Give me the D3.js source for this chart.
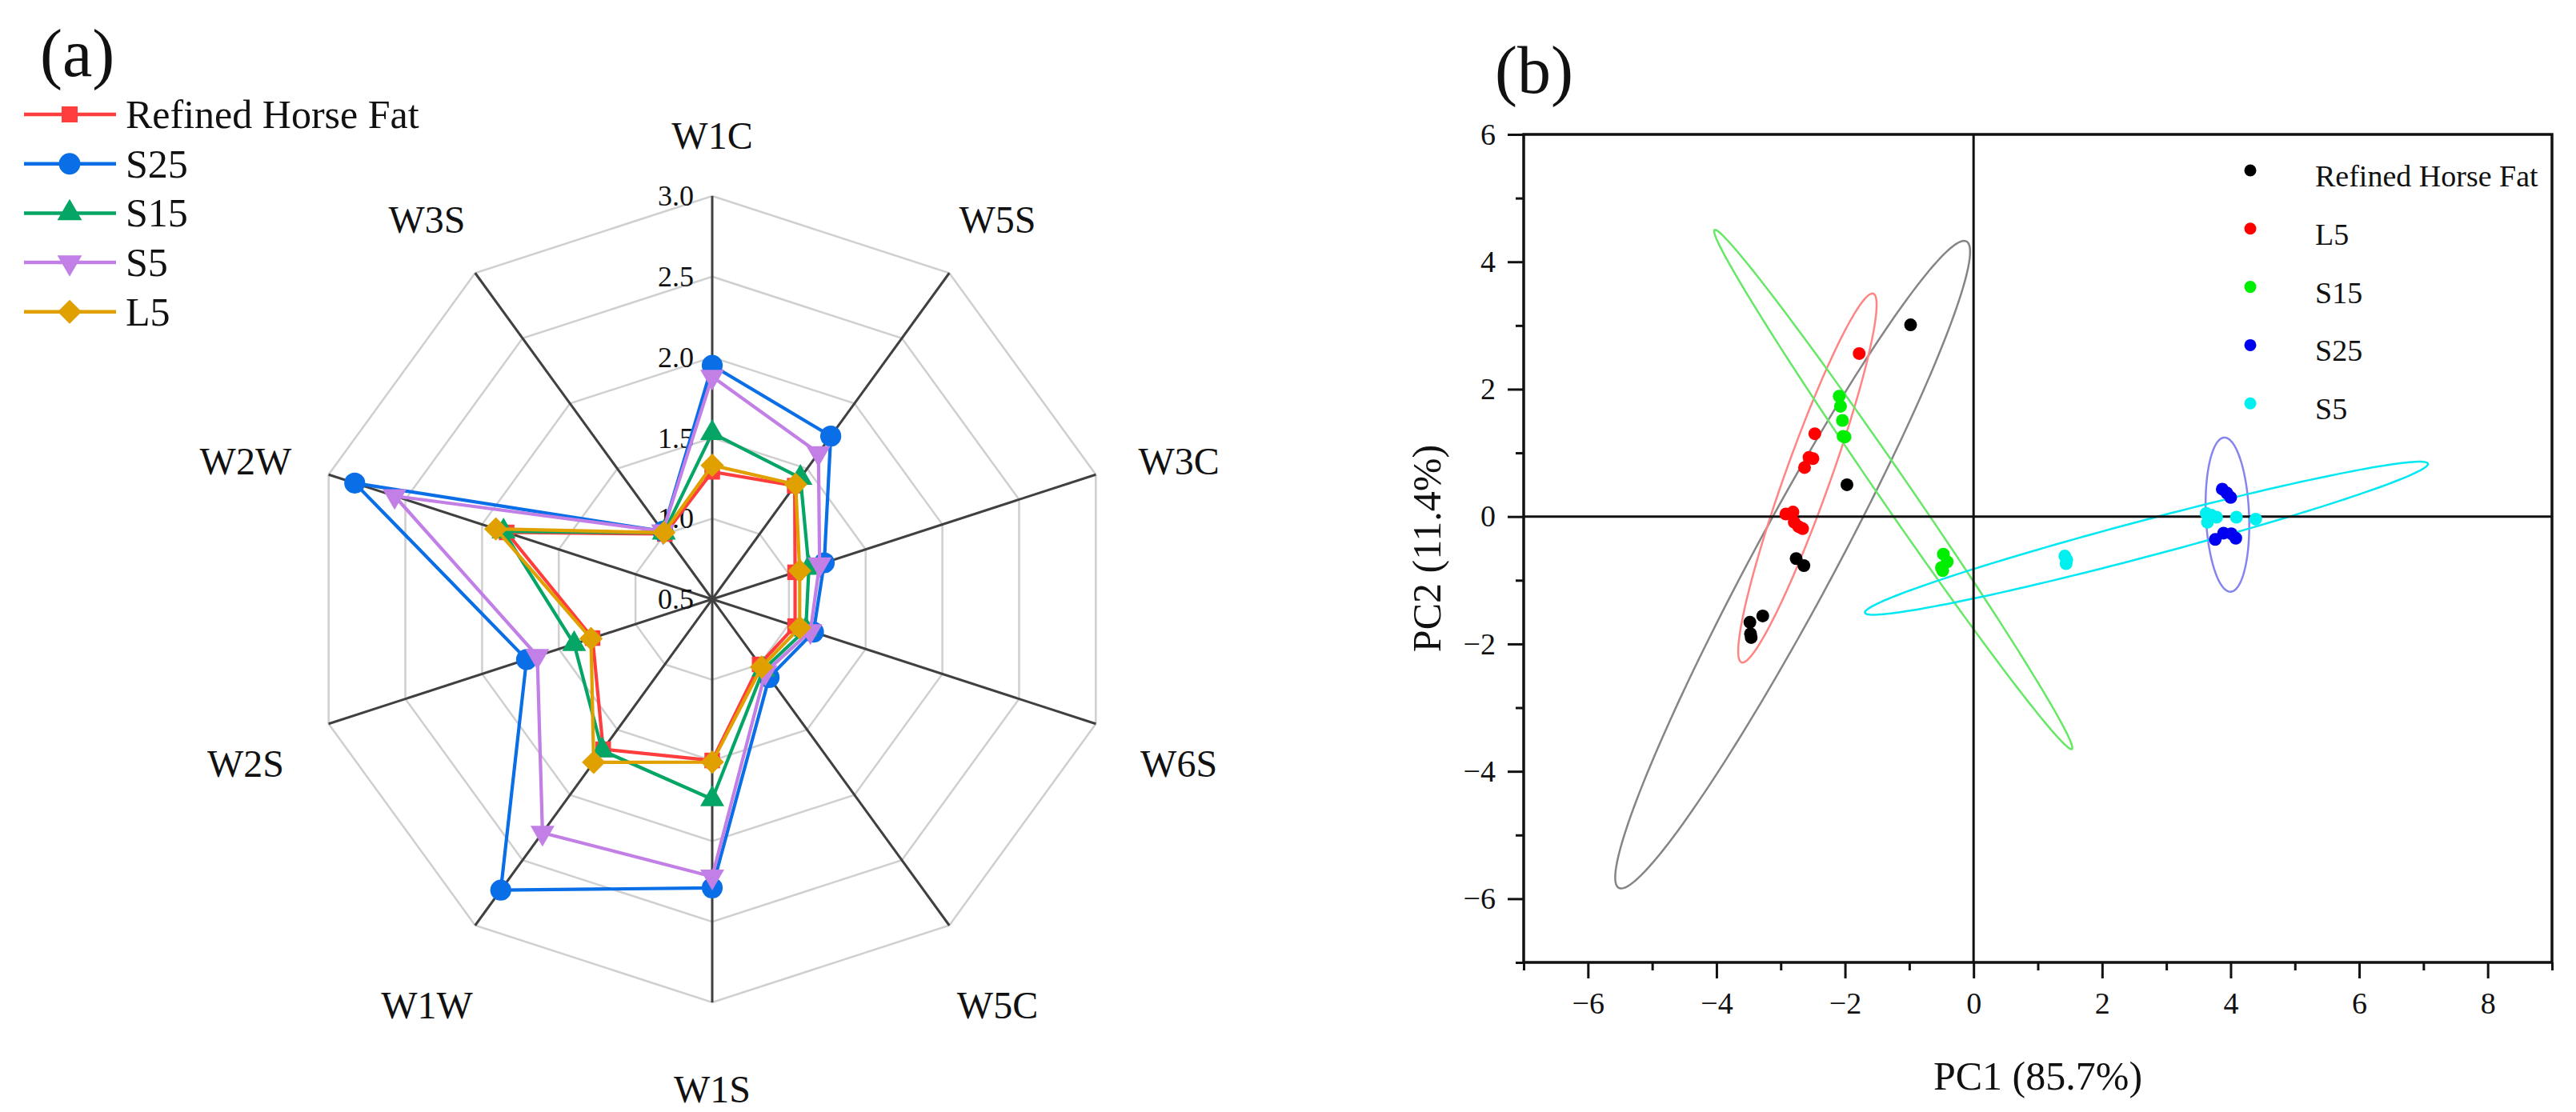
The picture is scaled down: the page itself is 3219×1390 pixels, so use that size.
<!DOCTYPE html>
<html><head><meta charset="utf-8">
<script src="https://cdn.jsdelivr.net/npm/d3@7"></script>
<style>
html,body{margin:0;padding:0;background:#fff;}
svg{display:block;}
text{font-family:'Liberation Serif','Times New Roman',serif;fill:#111;}
</style>
</head><body>
<svg id="chart" width="3219" height="1390"></svg>
<script>
// ---------------- data: radar (a) ----------------
const radarAxes = ["W1C","W5S","W3C","W6S","W5C","W1S","W1W","W2S","W2W","W3S"];
const radarTicks = [0.5, 1.0, 1.5, 2.0, 2.5, 3.0];
const radarSeriesNames = ["Refined Horse Fat","S25","S15","S5","L5"];
const valuesRefinedHorseFat = [1.29,1.37,1.04,1.04,1.00,1.50,1.65,1.28,1.84,1.00];
const valuesS25            = [1.95,1.75,1.23,1.16,1.10,2.29,2.73,1.71,2.83,1.02];
const valuesS15            = [1.53,1.43,1.13,1.11,1.04,1.74,1.66,1.40,1.86,1.01];
const valuesS5             = [1.88,1.62,1.20,1.14,1.06,2.22,2.29,1.64,2.57,1.02];
const valuesL5             = [1.33,1.38,1.07,1.07,1.02,1.51,1.75,1.29,1.91,1.01];

// ---------------- data: PCA (b) ----------------
const pcaGroups = ["Refined Horse Fat","L5","S15","S25","S5"];
const pcaRefinedHorseFat = [[-0.98,3.01],[-1.97,0.50],[-2.76,-0.66],[-2.64,-0.77],[-3.48,-1.66],[-3.28,-1.56],[-3.47,-1.84],[-3.46,-1.90]];
const pcaL5  = [[-1.78,2.56],[-2.47,1.30],[-2.56,0.93],[-2.50,0.91],[-2.63,0.77],[-2.92,0.04],[-2.81,0.07],[-2.79,-0.09],[-2.72,-0.16],[-2.66,-0.19]];
const pcaS15 = [[-2.09,1.89],[-2.07,1.73],[-2.04,1.51],[-2.03,1.26],[-2.00,1.25],[-0.47,-0.59],[-0.41,-0.71],[-0.50,-0.80],[-0.48,-0.85]];
const pcaS25 = [[3.87,0.43],[3.94,0.37],[4.00,0.30],[3.76,-0.36],[3.89,-0.26],[4.01,-0.27],[4.08,-0.34]];
const pcaS5  = [[1.42,-0.62],[1.44,-0.74],[1.45,-0.68],[3.62,0.05],[3.64,-0.09],[3.70,0.02],[3.78,-0.01],[4.09,-0.01],[4.39,-0.04]];
// confidence ellipses: major-axis end points (PC1, PC2) and minor/major ratio
const ellipseRefinedHorseFat = [[-0.11,4.32],[-5.52,-5.83],0.11];
const ellipseL5  = [[-1.56,3.50],[-3.61,-2.29],0.115];
const ellipseS15 = [[-4.03,4.50],[1.53,-3.65],0.048];
const ellipseS25 = [[3.90,1.24],[4.00,-1.18],0.28];
const ellipseS5  = [[-1.69,-1.51],[7.07,0.83],0.062];
const pcaXTicks = [-6,-4,-2,0,2,4,6,8];
const pcaYTicks = [-6,-4,-2,0,2,4,6];
const pcaXLabel = "PC1 (85.7%)";
const pcaYLabel = "PC2 (11.4%)";

// ---------------- drawing ----------------
const W = 3219, H = 1390;
const svg = d3.select("#chart");
svg.append("rect").attr("width", W).attr("height", H).attr("fill", "#fff");
const fmt = d => d < 0 ? "\u2212" + Math.abs(d) : String(d);

// ===== Radar =====
const cx = 890, cy = 749, R = 504;
const rScale = d3.scaleLinear().domain([0.5, 3]).range([0, R]);
const aScale = d3.scaleLinear().domain([0, radarAxes.length]).range([0, 2 * Math.PI]);
const gR = svg.append("g").attr("transform", `translate(${cx},${cy})`);
const radial = d3.lineRadial().angle(d => d[0]).radius(d => d[1]).curve(d3.curveLinearClosed);

// rings
gR.selectAll("path.ring").data(radarTicks.slice(1)).join("path")
  .attr("class", "ring")
  .attr("d", t => radial(radarAxes.map((a, i) => [aScale(i), rScale(t)])))
  .attr("fill", "none").attr("stroke", "#cfcfcf").attr("stroke-width", 2.5);
// spokes
gR.selectAll("line.spoke").data(radarAxes).join("line")
  .attr("class", "spoke")
  .attr("x1", 0).attr("y1", 0)
  .attr("x2", (a, i) => rScale(3) * Math.sin(aScale(i)))
  .attr("y2", (a, i) => -rScale(3) * Math.cos(aScale(i)))
  .attr("stroke", "#404040").attr("stroke-width", 3);
// axis labels
const labelRadius = th => R + 92 + 18 * Math.abs(Math.sin(th));
gR.selectAll("text.axl").data(radarAxes).join("text")
  .attr("class", "axl")
  .attr("x", (a, i) => labelRadius(aScale(i)) * Math.sin(aScale(i)))
  .attr("y", (a, i) => -labelRadius(aScale(i)) * Math.cos(aScale(i)) + 33)
  .attr("text-anchor", "middle").attr("font-size", 48).text(d => d);
// tick labels
gR.selectAll("text.tk").data(radarTicks).join("text")
  .attr("class", "tk")
  .attr("x", -23).attr("y", t => -rScale(t)).attr("dy", "0.34em")
  .attr("text-anchor", "end").attr("font-size", 36).text(t => t.toFixed(1));

const radarSeries = [
  {name: radarSeriesNames[0], vals: valuesRefinedHorseFat, color: "#ff3d3d", sym: d3.symbolSquare, size: 380, rot: 0},
  {name: radarSeriesNames[1], vals: valuesS25, color: "#0a6fe6", sym: d3.symbolCircle, size: 540, rot: 0},
  {name: radarSeriesNames[2], vals: valuesS15, color: "#05a565", sym: d3.symbolTriangle, size: 390, rot: 0},
  {name: radarSeriesNames[3], vals: valuesS5, color: "#c27fe6", sym: d3.symbolTriangle, size: 390, rot: 180},
  {name: radarSeriesNames[4], vals: valuesL5, color: "#e0a000", sym: d3.symbolSquare, size: 430, rot: 45}
];
radarSeries.forEach(s => {
  const pts = s.vals.map((v, i) => [aScale(i), rScale(v)]);
  gR.append("path").attr("d", radial(pts))
    .attr("fill", "none").attr("stroke", s.color).attr("stroke-width", 4.2).attr("stroke-linejoin", "round");
  gR.selectAll(null).data(pts).join("path")
    .attr("d", d3.symbol().type(s.sym).size(s.size))
    .attr("transform", d => `translate(${d[1] * Math.sin(d[0])},${-d[1] * Math.cos(d[0])}) rotate(${s.rot})`)
    .attr("fill", s.color);
});
// radar legend
const gL = svg.append("g");
radarSeries.forEach((s, i) => {
  const yy = 143 + i * 61.7;
  gL.append("line").attr("x1", 30).attr("x2", 145).attr("y1", yy).attr("y2", yy)
    .attr("stroke", s.color).attr("stroke-width", 4.5);
  gL.append("path").attr("d", d3.symbol().type(s.sym).size(s.size * 1.05))
    .attr("transform", `translate(87,${yy}) rotate(${s.rot})`).attr("fill", s.color);
  gL.append("text").attr("x", 157).attr("y", yy + 17).attr("font-size", 50).text(s.name);
});
svg.append("text").attr("x", 50).attr("y", 95).attr("font-size", 84).text("(a)");

// ===== PCA =====
const x = d3.scaleLinear().domain([-7, 9]).range([1904, 3189]);
const y = d3.scaleLinear().domain([-7, 6]).range([1203, 168]);
const gP = svg.append("g");

const groups = [
  {name: pcaGroups[0], pts: pcaRefinedHorseFat, ell: ellipseRefinedHorseFat, color: "#000000", ecolor: "#858585"},
  {name: pcaGroups[1], pts: pcaL5, ell: ellipseL5, color: "#ff0000", ecolor: "#ff8585"},
  {name: pcaGroups[2], pts: pcaS15, ell: ellipseS15, color: "#00ee00", ecolor: "#66e866"},
  {name: pcaGroups[3], pts: pcaS25, ell: ellipseS25, color: "#0000f0", ecolor: "#8585f0"},
  {name: pcaGroups[4], pts: pcaS5, ell: ellipseS5, color: "#00f0f0", ecolor: "#00e8f2"}
];
const closed = d3.line().curve(d3.curveLinearClosed);
groups.forEach(g => {
  const p1 = [x(g.ell[0][0]), y(g.ell[0][1])], p2 = [x(g.ell[1][0]), y(g.ell[1][1])];
  const c = [(p1[0] + p2[0]) / 2, (p1[1] + p2[1]) / 2];
  const A = [(p1[0] - p2[0]) / 2, (p1[1] - p2[1]) / 2];
  const B = [-A[1] * g.ell[2], A[0] * g.ell[2]];
  const ring = d3.range(0, 2 * Math.PI, Math.PI / 90).map(t =>
    [c[0] + A[0] * Math.cos(t) + B[0] * Math.sin(t), c[1] + A[1] * Math.cos(t) + B[1] * Math.sin(t)]);
  gP.append("path").attr("d", closed(ring)).attr("fill", "none")
    .attr("stroke", g.ecolor).attr("stroke-width", 2.5);
});
// zero lines
gP.append("line").attr("x1", x(-7)).attr("x2", x(9)).attr("y1", y(0)).attr("y2", y(0))
  .attr("stroke", "#111").attr("stroke-width", 3);
gP.append("line").attr("x1", x(0)).attr("x2", x(0)).attr("y1", y(6)).attr("y2", y(-7))
  .attr("stroke", "#111").attr("stroke-width", 3);
// points
groups.forEach(g => {
  gP.selectAll(null).data(g.pts).join("circle")
    .attr("cx", d => x(d[0])).attr("cy", d => y(d[1])).attr("r", 8).attr("fill", g.color);
});
// frame
gP.append("rect").attr("x", x(-7)).attr("y", y(6)).attr("width", x(9) - x(-7)).attr("height", y(-7) - y(6))
  .attr("fill", "none").attr("stroke", "#111").attr("stroke-width", 3.5);

function styleAxis(sel) {
  sel.select(".domain").remove();
  sel.selectAll(".tick line").attr("stroke", "#111").attr("stroke-width", 3);
  sel.selectAll(".tick text").attr("font-size", 38).attr("fill", "#111")
    .attr("font-family", "'Liberation Serif','Times New Roman',serif");
}
const minorX = d3.range(-7, 10, 1).filter(v => Math.abs(v) % 2 === 1);
const minorY = d3.range(-7, 7, 1).filter(v => Math.abs(v) % 2 === 1);
svg.append("g").attr("transform", `translate(0,${y(-7)})`)
  .call(d3.axisBottom(x).tickValues(minorX).tickSize(10).tickFormat("")).call(styleAxis);
svg.append("g").attr("transform", `translate(0,${y(-7)})`)
  .call(d3.axisBottom(x).tickValues(pcaXTicks).tickSize(20).tickPadding(17).tickFormat(fmt)).call(styleAxis);
svg.append("g").attr("transform", `translate(${x(-7)},0)`)
  .call(d3.axisLeft(y).tickValues(minorY).tickSize(10).tickFormat("")).call(styleAxis);
svg.append("g").attr("transform", `translate(${x(-7)},0)`)
  .call(d3.axisLeft(y).tickValues(pcaYTicks).tickSize(20).tickPadding(15).tickFormat(fmt)).call(styleAxis);

// axis titles
svg.append("text").attr("x", (x(-7) + x(9)) / 2).attr("y", 1362).attr("text-anchor", "middle")
  .attr("font-size", 50).text(pcaXLabel);
svg.append("text").attr("transform", `translate(1800,${(y(6) + y(-7)) / 2}) rotate(-90)`)
  .attr("text-anchor", "middle").attr("font-size", 50).text(pcaYLabel);

// PCA legend
groups.forEach((g, i) => {
  const yy = 213 + i * 72.8;
  svg.append("circle").attr("cx", 2812).attr("cy", yy).attr("r", 7.5).attr("fill", g.color);
  svg.append("text").attr("x", 2893).attr("y", yy + 20).attr("font-size", 38).text(g.name);
});
svg.append("text").attr("x", 1868).attr("y", 116).attr("font-size", 84).text("(b)");
</script>
</body></html>
